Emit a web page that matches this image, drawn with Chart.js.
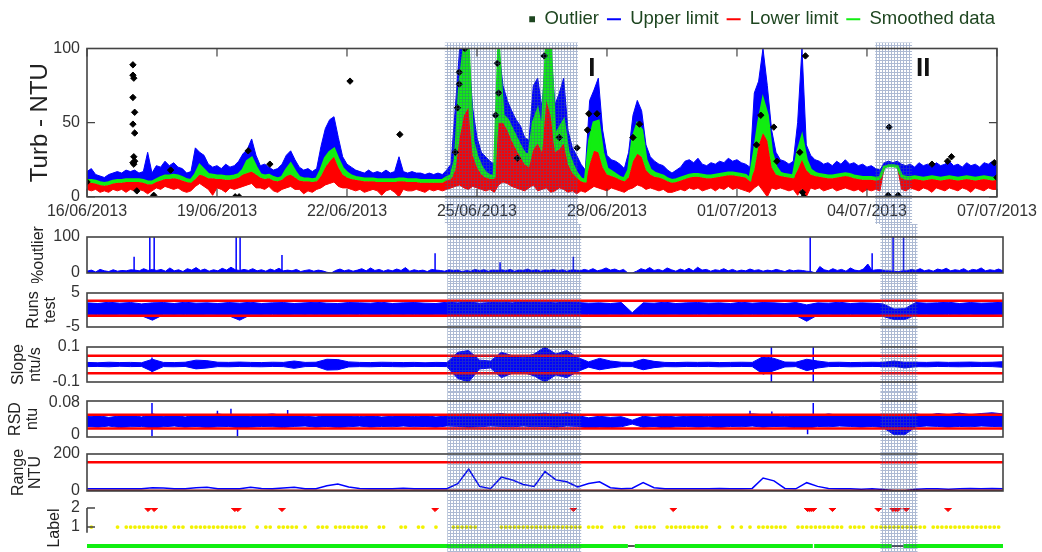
<!DOCTYPE html>
<html>
<head>
<meta charset="utf-8">
<script src="https://cdn.jsdelivr.net/npm/chart.js@4.4.0/dist/chart.umd.min.js"></script>
<style>
  html, body { margin: 0; padding: 0; background: #fff; }
  #wrap { position: relative; width: 1042px; height: 552px; overflow: hidden; }
  #wrap canvas { position: absolute; left: 0; }
</style>
</head>
<body>
<div id="wrap">
  <canvas id="turb" width="1042" height="228" style="top:0px"></canvas>
  <canvas id="pct" width="1042" height="59" style="top:224px"></canvas>
  <canvas id="runs" width="1042" height="54" style="top:283px"></canvas>
  <canvas id="slope" width="1042" height="55" style="top:337px"></canvas>
  <canvas id="rsd" width="1042" height="54" style="top:392px"></canvas>
  <canvas id="range" width="1042" height="54" style="top:446px"></canvas>
  <canvas id="label" width="1042" height="56" style="top:500px"></canvas>
</div>
<script>
const FONT = "'Liberation Sans', Arial, sans-serif";
const BLUE = '#0000ff';
const RED = '#ff0000';
const GREEN = '#11ee11';

// time axis (days since 16/06/2013)
const dayTicks = [0, 3, 6, 9, 12, 15, 18, 21];
const dayTickLabels = ['16/06/2013', '19/06/2013', '22/06/2013', '25/06/2013',
  '28/06/2013', '01/07/2013', '04/07/2013', '07/07/2013'];
const fineStep = 0.1;
const coarseStep = 0.25;

// hatched periods I and II
const shadeStart = [8.26, 18.19];
const shadeEnd = [11.33, 19.04];
const periodNames = ['I', 'II'];
const periodDays = [11.65, 19.3];
const periodLevel = 86;

// turbidity panel, one value every 0.1 day
const turbSmoothed = [
  11,11,10.5,9.5,9,9.5,10.5,11,11,11.5,
  11.5,11.5,11.5,11,10,10,11.5,13,14,14,
  14.5,14,13,11.5,11,15,21,18,15,14.5,
  14,14,13.5,13.5,14,15,18,24,26,20,
  15,14,14.5,13,12,13,18,22,17,13,
  12,12,11.5,12,18,26,30,32,25,19,
  16,14,13,12.5,12,12,12,11.5,11.5,11.5,
  11.5,11.5,12,12,11.5,11.5,11.5,11,11,11,
  11,11,11,13,14,25,75,100,100,38,
  27,20,16,14,14,100,55,52,46,40,
  34,29,28,50,58,42,100,100,40,46,
  51,30,22,16,12,11,38,50,51,30,
  19,17,15,13,12,18,40,49,45,25,
  18,16,15,14,12,11,11.5,12.5,13.5,14.5,
  15,15,14.5,14,14,14.5,15,15.5,16,16,
  15.5,15,14.5,12,30,50,65,55,30,20,
  16,15,14.5,14,30,40,25,18,16,15,
  14.5,14,14,14.5,15,15.5,15,14,13.5,13,
  13,13,12.5,13,20,21,21,20.5,14,13,
  13,13.5,13,12.5,13,13.5,13,12.5,13,13.5,
  13,12.5,13,13.5,13,12.5,13,13.5,13,12.5,
  13];
const turbUpper = [
  17,19,15,14,13,15,16,17,16,18,
  17,18,16,17,30,16,21,20,24,21,
  23,20,19,16,17,33,30,28,22,20,
  21,19,22,20,21,24,29,32,39,28,
  21,22,20,18,19,22,28,31,25,20,
  18,19,17,19,34,46,52,54,40,27,
  22,20,18,17,16,18,16,17,16,18,
  16,17,27,17,16,17,16,16,15,16,
  15,16,15,18,22,60,100,100,100,60,
  40,30,27,24,22,100,75,65,58,52,
  48,40,38,75,80,60,100,100,62,70,
  80,45,33,28,22,18,65,72,80,45,
  28,25,24,22,19,30,55,65,58,35,
  27,24,22,21,18,16,18,20,24,25,
  23,26,22,21,23,22,24,23,26,24,
  25,23,22,20,70,78,100,75,45,30,
  25,24,22,24,50,100,35,28,25,24,
  22,23,21,24,22,25,22,23,21,22,
  20,21,19,18,23,24,23,24,22,21,
  22,20,23,21,22,20,23,21,22,24,
  21,22,20,23,21,22,20,23,22,24,
  21];
const turbLower = [
  9.5,9.5,9,8,7.5,8,9,9.5,9.5,10,
  10,10,10,9.5,8.5,8.5,10,11,12,12,
  12.5,12,11,10,9.5,12,15,14,12.5,12.5,
  12,12,11.5,11.5,12,13,15,16,17,15,
  13,12,12.5,11,10.5,11.5,14,15,13,11,
  10.5,10.5,10,10.5,14,20,24,27,20,15,
  13,12,11.5,11,10.5,10.5,10.5,10,10,10,
  10,10,10.5,10.5,10,10,10,9.5,9.5,9.5,
  9.5,9.5,9.5,11,12,18,40,55,60,28,
  20,15,13,12,12,50,50,45,38,32,
  27,22,20,32,36,30,65,55,30,32,
  36,22,16,13,10.5,9.5,22,31,30,20,
  15,14,13,11.5,10.5,13,24,29,27,18,
  15,13.5,13,12,10.5,9.5,10,11,12,13,
  13.5,13.5,13,12.5,12.5,13,13.5,14,14.5,14.5,
  14,13.5,13,10.5,18,35,43,38,20,15,
  14,13.5,13,12.5,18,25,18,15,14,13.5,
  13,12.5,12.5,13,13.5,14,13.5,12.5,12,11.5,
  11.5,11.5,11,11.5,20,21,21,20.5,12.5,11.5,
  11.5,12,11.5,11,11.5,12,11.5,11,11.5,12,
  11.5,11,11.5,12,11.5,11,11.5,12,11.5,11,
  11.5];
const turbLowerBottom = [
  5,4,5,3,4,3,5,4,5,3,
  5,4,5,4,2,4,6,5,7,6,
  5,6,4,3,4,7,9,7,5,1,
  6,5,3,6,5,6,7,8,9,6,
  6,5,7,4,3,5,6,7,5,5,
  2,4,3,5,6,8,9,10,7,6,
  6,5,4,5,3,4,5,4,1,4,
  5,3,0,5,4,4,5,4,3,5,
  4,5,4,5,6,7,8,6,5,7,
  6,5,4,5,3,8,10,9,7,6,
  5,4,6,8,4,5,6,3,4,6,
  5,3,4,2,4,3,5,7,6,5,
  4,6,5,4,3,5,6,8,7,5,
  6,5,4,5,3,3,4,5,4,6,
  5,6,4,5,6,4,6,5,7,5,
  6,5,4,3,6,8,4,0,6,5,
  6,5,4,5,1,6,0,6,5,6,
  4,5,6,4,5,6,5,4,5,3,
  5,4,5,4,20,21,21,20.5,5,4,
  6,5,4,6,5,3,6,5,4,6,
  5,4,6,5,3,6,5,4,6,5,
  5];
const outlierDays = [0.0, 1.06, 1.06, 1.08, 1.06, 1.10, 1.06, 1.10, 1.08, 1.10, 1.06, 1.08, 1.15,
  1.54, 1.93, 3.42, 3.51, 3.72, 4.22, 6.07, 7.22, 8.5, 8.55, 8.59, 8.59, 8.72, 9.43, 9.47, 9.5,
  9.93, 10.55, 10.9, 11.31, 11.55, 11.58, 11.77, 12.6, 12.75, 15.45, 15.55, 15.85, 15.92, 16.45,
  16.58, 16.51, 16.54, 18.49, 18.51, 18.72, 19.5, 19.86, 19.95, 20.94, 21.0];
const outlierValues = [10, 89, 82, 80, 67, 57, 49, 43, 27, 24, 23, 22, 4,
  1, 18, 0, 0, 31, 22, 78, 42, 30, 60, 84, 76, 100, 55, 90, 70,
  26, 95, 40, 33, 45, 56, 56, 40, 49, 35, 55, 47, 24, 30,
  95, 3, 0, 1, 47, 1, 22, 24, 27, 23, 13];

// % outlier: background level every 0.1 day, plus isolated spikes
const outlierPct = [
  5,8,3,10,6,4,9,5,7,6,
  9,8,6,12,7,10,7,10,5,14,
  6,9,4,12,8,15,7,11,5,9,
  6,13,8,16,9,7,10,7,12,6,
  9,5,11,7,13,6,8,6,10,4,
  7,9,5,8,6,2,0,7,11,6,
  9,5,8,12,6,14,7,10,5,9,
  6,11,7,15,5,9,6,8,4,10,
  8,7,5,9,6,8,4,7,5,10,
  6,9,5,8,7,9,6,10,5,8,
  7,11,6,9,5,8,7,10,6,9,
  5,8,8,6,10,7,12,6,9,14,
  8,11,6,10,0,0,5,12,8,15,
  7,10,6,14,9,5,11,7,13,6,
  16,8,10,5,9,7,12,6,10,5,
  8,6,11,7,9,5,8,6,10,7,
  4,9,6,8,7,5,4,0,18,9,
  6,12,7,10,5,14,8,6,11,25,
  7,9,9,6,6,5,4,6,6,10,
  7,12,6,9,5,11,8,13,6,9,
  7,12,5,10,8,14,6,9,7,11,
  6];
const pctSpikeDays = [1.08, 1.44, 1.54, 3.42, 3.51, 4.47, 7.98, 9.47, 11.15, 16.58, 18.0, 18.48, 18.72];
const pctSpikeTop = [45, 100, 100, 100, 100, 50, 55, 30, 45, 100, 55, 100, 100];

// runs test band, one value every 0.25 day
const runsUpper = [
  2.1,1.9,2.3,2.0,2.2,1.8,2.1,2.2,1.9,2.3,
  2.0,2.1,1.9,2.2,2.0,2.3,1.9,2.1,2.2,1.9,
  2.1,2.3,2.0,1.9,2.2,2.1,2.0,2.3,1.9,2.1,
  2.2,2.0,1.9,2.3,2.1,2.4,2.0,2.2,2.3,2.1,
  2.4,2.2,2.3,2.1,2.4,2.2,2.0,2.1,1.9,2.2,
  -0.8,2.1,2.0,2.3,1.9,2.1,2.2,2.0,2.1,1.9,
  2.3,2.0,2.2,2.1,1.9,2.2,1.5,2.1,2.0,2.3,
  1.9,2.1,2.0,1.8,0.3,0.4,2.2,2.0,2.1,2.3,
  1.9,2.2,2.0,2.1,2.3];
const runsLower = [
  -1.5,-1.3,-1.6,-1.4,-1.5,-1.7,-3.0,-1.4,-1.5,-1.3,
  -1.6,-1.4,-1.5,-1.7,-3.0,-1.4,-1.5,-1.3,-1.6,-1.4,
  -1.5,-1.3,-1.6,-1.5,-1.4,-1.3,-1.5,-1.6,-1.4,-1.5,
  -1.3,-1.6,-1.4,-1.5,-1.6,-1.7,-1.5,-1.6,-1.4,-1.5,
  -1.6,-1.7,-1.5,-1.6,-1.4,-1.5,-1.3,-1.6,-1.4,-1.5,
  -1.4,-1.3,-1.6,-1.5,-1.4,-1.6,-1.3,-1.5,-1.4,-1.6,
  -1.5,-1.3,-1.6,-1.4,-1.5,-1.6,-3.3,-1.5,-1.4,-1.6,
  -1.3,-1.5,-1.6,-1.9,-2.8,-2.8,-1.5,-1.4,-1.6,-1.3,
  -1.5,-1.4,-1.6,-1.5,-1.4];
const runsLimits = [2.7, -1.7];

// slope band, one value every 0.25 day
const slopeUpper = [
  0.012,0.010,0.013,0.011,0.012,0.010,0.030,0.012,0.011,0.013,
  0.025,0.022,0.013,0.012,0.014,0.012,0.011,0.013,0.012,0.020,
  0.012,0.013,0.030,0.028,0.015,0.012,0.011,0.013,0.012,0.011,
  0.012,0.010,0.012,0.011,0.070,0.080,0.025,0.020,0.070,0.050,
  0.040,0.060,0.100,0.060,0.080,0.040,0.015,0.035,0.020,0.013,
  0.012,0.030,0.018,0.012,0.011,0.013,0.012,0.013,0.011,0.012,
  0.013,0.012,0.045,0.035,0.014,0.013,0.030,0.020,0.012,0.013,
  0.011,0.012,0.013,0.012,0.020,0.012,0.013,0.012,0.014,0.012,
  0.013,0.014,0.012,0.013,0.016];
const slopeLower = [
  -0.012,-0.011,-0.013,-0.010,-0.012,-0.011,-0.040,-0.012,-0.013,-0.011,
  -0.025,-0.020,-0.012,-0.013,-0.011,-0.012,-0.013,-0.011,-0.012,-0.022,
  -0.012,-0.011,-0.032,-0.030,-0.014,-0.012,-0.013,-0.011,-0.012,-0.013,
  -0.011,-0.012,-0.011,-0.012,-0.080,-0.100,-0.025,-0.020,-0.075,-0.050,
  -0.045,-0.065,-0.100,-0.060,-0.075,-0.040,-0.015,-0.030,-0.020,-0.012,
  -0.012,-0.030,-0.018,-0.012,-0.013,-0.011,-0.012,-0.011,-0.013,-0.012,
  -0.011,-0.012,-0.055,-0.035,-0.014,-0.012,-0.035,-0.020,-0.012,-0.011,
  -0.013,-0.012,-0.011,-0.012,-0.010,-0.020,-0.012,-0.013,-0.011,-0.012,
  -0.013,-0.012,-0.011,-0.012,-0.016];
const slopeSpikeDays = [1.49, 15.69, 16.65];
const slopeSpikeTop = [0.04, 0.1, 0.1];
const slopeSpikeBottom = [-0.05, -0.1, -0.1];
const slopeLimits = [0.05, -0.05];

// relative standard deviation band, one value every 0.25 day
const rsdUpper = [
  0.045,0.048,0.043,0.047,0.050,0.044,0.052,0.046,0.049,0.044,
  0.050,0.047,0.052,0.048,0.050,0.046,0.049,0.052,0.048,0.050,
  0.046,0.044,0.049,0.050,0.047,0.045,0.048,0.044,0.046,0.049,
  0.045,0.048,0.044,0.047,0.050,0.052,0.049,0.050,0.053,0.048,
  0.050,0.052,0.054,0.050,0.055,0.048,0.042,0.046,0.043,0.045,
  0.036,0.046,0.043,0.047,0.044,0.046,0.048,0.045,0.050,0.047,
  0.049,0.052,0.050,0.048,0.045,0.049,0.050,0.047,0.052,0.048,
  0.050,0.047,0.049,0.046,0.050,0.050,0.052,0.048,0.053,0.050,
  0.054,0.050,0.053,0.055,0.052];
const rsdLower = [
  0.020,0.018,0.021,0.017,0.019,0.020,0.016,0.019,0.021,0.018,
  0.020,0.017,0.019,0.020,0.016,0.018,0.020,0.019,0.017,0.020,
  0.021,0.018,0.020,0.017,0.019,0.021,0.018,0.020,0.019,0.021,
  0.019,0.020,0.018,0.021,0.020,0.018,0.019,0.021,0.020,0.019,
  0.021,0.019,0.020,0.018,0.021,0.020,0.016,0.018,0.017,0.019,
  0.026,0.018,0.020,0.016,0.019,0.020,0.018,0.019,0.017,0.020,
  0.019,0.021,0.018,0.020,0.019,0.017,0.015,0.020,0.019,0.021,
  0.020,0.018,0.020,0.017,-0.001,-0.001,0.019,0.021,0.020,0.018,
  0.020,0.019,0.021,0.020,0.019];
const rsdSpikeDays = [1.49, 2.99, 3.30, 3.45, 4.6, 15.2, 15.7, 16.65, 16.52, 19.0];
const rsdSpikeTop = [0.08, 0.06, 0.065, 0.03, 0.062, 0.06, 0.058, 0.08, 0.03, 0.055];
const rsdSpikeBottom = [-0.005, 0.03, 0.03, -0.005, 0.03, 0.03, 0.03, 0.03, 0.0, 0.03];
const rsdLimits = [0.05, 0.015];

// range, one value every 0.25 day
const rangeNtu = [
  12,12,12,12,12,12,18,16,12,12,
  18,20,12,12,12,20,14,12,16,20,
  12,12,28,38,22,14,12,12,12,15,
  12,12,12,12,40,118,25,12,75,60,
  35,25,105,60,50,22,40,50,18,12,
  15,45,18,12,12,12,12,12,14,12,
  12,14,70,55,14,12,45,25,14,12,
  12,10,12,8,2,2,10,12,12,10,
  12,14,12,14,12];
const rangeLimits = [155, 0];

// labels: 1 = suspect (yellow), 2 = fault (red), 0 = valid (green)
const yellowDays = [0.1, 0.7, 0.9, 1.0, 1.1, 1.2, 1.3, 1.4, 1.5, 1.6, 1.7, 1.8, 2.0, 2.1, 2.2,
  2.4, 2.5, 2.6, 2.7, 2.8, 2.9, 3.0, 3.1, 3.2, 3.3, 3.4, 3.5, 3.6, 3.9, 4.1, 4.2, 4.4, 4.5,
  4.6, 4.7, 4.8, 5.0, 5.3, 5.4, 5.5, 5.7, 5.8, 5.9, 6.0, 6.1, 6.2, 6.3, 6.4, 6.7, 6.8, 7.2,
  7.3, 7.6, 7.7, 8.0, 8.4, 8.5, 8.6, 8.7, 8.8, 8.9, 9.5, 9.6, 9.7, 9.8, 9.9, 10.0, 10.1,
  10.2, 10.3, 10.4, 10.5, 10.6, 10.7, 10.8, 10.9, 11.0, 11.1, 11.2, 11.3, 11.5, 11.6, 11.7,
  11.8, 12.1, 12.2, 12.3, 12.6, 12.7, 12.8, 12.9, 13.0, 13.3, 13.4, 13.5, 13.6, 13.7, 13.8,
  13.9, 14.0, 14.1, 14.2, 14.5, 14.8, 15.0, 15.2, 15.4, 15.5, 15.6, 15.7, 15.8, 15.9, 16.0,
  16.3, 16.4, 16.5, 16.6, 16.7, 16.8, 16.9, 17.0, 17.1, 17.2, 17.3, 17.5, 17.6, 17.7, 17.8,
  18.0, 18.1, 18.2, 18.3, 18.4, 18.5, 18.6, 18.7, 18.8, 18.9, 19.0, 19.1, 19.2, 19.4, 19.5,
  19.6, 19.7, 19.8, 19.9, 20.0, 20.1, 20.2, 20.3, 20.4, 20.5, 20.6, 20.7, 20.8, 20.9];
const redDays = [1.40, 1.54, 3.39, 3.46, 4.47, 7.98, 11.15, 13.44, 16.52, 16.56, 16.6, 16.65,
  17.09, 18.14, 18.48, 18.54, 18.59, 18.78, 19.74];
const greenRuns = [[0, 12.4], [12.56, 16.64], [16.67, 18.45], [18.72, 21]];
const grayRuns = [[12.4, 12.56], [18.45, 18.72]];

const legendNames = ['Outlier', 'Upper limit', 'Lower limit', 'Smoothed data'];
const legendColors = ['#1e4620', BLUE, RED, GREEN];

// ---- helpers ----
const fineDays = turbSmoothed.map((_, i) => Math.round(i * fineStep * 100) / 100);
const coarseDays = runsUpper.map((_, i) => i * coarseStep);
const pts = (xs, ys) => xs.map((x, i) => ({x: x, y: ys[i]}));
const hLine = v => [{x: 0, y: v}, {x: 21, y: v}];
const spikes = (days, tops, bottoms) =>
  days.flatMap((d, i) => [{x: d, y: bottoms[i]}, {x: d, y: tops[i]}, {x: d, y: null}]);
const segs = (runs, v) => runs.flatMap(r => [{x: r[0], y: v}, {x: r[1], y: v}, {x: r[1], y: null}]);

const hatchTile = (() => {
  const c = document.createElement('canvas');
  c.width = 3; c.height = 3;
  const g = c.getContext('2d');
  g.fillStyle = 'rgba(60,90,150,0.42)';
  g.fillRect(0, 0, 3, 1);
  g.fillRect(0, 1, 1, 2);
  return c;
})();

const outlierIcon = (() => {
  const c = document.createElement('canvas');
  c.width = 14; c.height = 8;
  const g = c.getContext('2d');
  g.fillStyle = legendColors[0];
  g.fillRect(8, 1, 6, 6);
  return c;
})();

const deco = {
  id: 'deco',
  afterDatasetsDraw(chart, args, o) {
    const {ctx, chartArea: a} = chart;
    const x = chart.scales.x, y = chart.scales.y;
    ctx.save();
    const top = o.shadeGap != null ? a.top - o.shadeGap : 0;
    const bottom = chart.height - (o.shadeCut || 0);
    ctx.fillStyle = ctx.createPattern(hatchTile, 'repeat');
    shadeStart.forEach((s, k) => {
      const x0 = x.getPixelForValue(s);
      ctx.fillRect(x0, top, x.getPixelForValue(shadeEnd[k]) - x0, bottom - top);
    });
    ctx.strokeStyle = '#444';
    ctx.lineWidth = 1.6;
    if (o.box) ctx.strokeRect(a.left, a.top, a.right - a.left, a.bottom - a.top);
    if (o.spine) {
      ctx.beginPath();
      ctx.moveTo(a.left, y.getPixelForValue(2));
      ctx.lineTo(a.left, y.getPixelForValue(0.7));
      y.ticks.forEach(t => {
        const py = y.getPixelForValue(t.value);
        ctx.moveTo(a.left, py); ctx.lineTo(a.left + 8, py);
      });
      ctx.stroke();
    }
    if (o.inner) {
      ctx.lineWidth = 1.2;
      ctx.beginPath();
      x.ticks.forEach(t => {
        const px = x.getPixelForValue(t.value);
        ctx.moveTo(px, a.top); ctx.lineTo(px, a.top + 8);
        ctx.moveTo(px, a.bottom); ctx.lineTo(px, a.bottom - 8);
      });
      y.ticks.forEach(t => {
        const py = y.getPixelForValue(t.value);
        ctx.moveTo(a.left, py); ctx.lineTo(a.left + 8, py);
        ctx.moveTo(a.right, py); ctx.lineTo(a.right - 8, py);
      });
      ctx.stroke();
    }
    if (o.periods) {
      ctx.fillStyle = '#111';
      ctx.font = 'bold 26px ' + FONT;
      ctx.textAlign = 'center';
      ctx.textBaseline = 'middle';
      periodNames.forEach((n, k) => {
        ctx.fillText(n, x.getPixelForValue(periodDays[k]), y.getPixelForValue(periodLevel));
      });
    }
    ctx.restore();
  }
};

function makeOptions(p) {
  return {
    responsive: false,
    animation: false,
    layout: {padding: {top: p.pt, bottom: p.pb, left: 0, right: 39}},
    plugins: {legend: {display: false}, tooltip: {enabled: false}, deco: p.deco || {box: true}},
    elements: {point: {radius: 0}, line: {tension: 0}},
    scales: {
      x: {type: 'linear', min: 0, max: 21, display: false},
      y: {
        min: p.min, max: p.max,
        afterBuildTicks: s => { s.ticks = p.ticks.map(v => ({value: v})); },
        afterFit: s => { s.width = 87; },
        grid: {display: false, drawTicks: true, tickLength: 7},
        border: {display: false},
        ticks: {color: '#333', padding: 0, font: {family: FONT, size: 16, lineHeight: 1},
          callback: v => String(v)},
        title: {display: true, text: p.title, color: '#222',
          font: {family: FONT, size: p.titleSize || 16, lineHeight: p.titleLH || 1.06},
          padding: {top: p.titlePad, bottom: 0}}
      }
    }
  };
}

function panel(id, datasets, p) {
  return new Chart(document.getElementById(id), {
    type: 'line',
    data: {datasets: datasets},
    options: makeOptions(p),
    plugins: [deco]
  });
}

// ---- top panel: turbidity ----
const turbOpts = makeOptions({pt: 2, pb: 2, min: 0, max: 100, ticks: [0, 50, 100],
  title: 'Turb - NTU', titleSize: 24, titleLH: 1.2, titlePad: 26,
  deco: {box: true, inner: true, shadeGap: 6, shadeCut: 4, periods: true}});
turbOpts.scales.x = {
  type: 'linear', min: 0, max: 21, position: 'bottom',
  afterBuildTicks: s => { s.ticks = dayTicks.map(v => ({value: v})); },
  grid: {display: false, drawTicks: false}, border: {display: false},
  ticks: {color: '#333', padding: 5, maxRotation: 0, autoSkip: false,
    font: {family: FONT, size: 16, lineHeight: 1.2}, callback: (v, i) => dayTickLabels[i]}
};
turbOpts.scales.xTop = {
  type: 'linear', min: 0, max: 21, position: 'top',
  afterFit: s => { s.height = 10; },
  grid: {display: false, drawTicks: false}, border: {display: false}, ticks: {display: false}
};
turbOpts.plugins.legend = {
  display: true, position: 'top', align: 'end',
  labels: {
    usePointStyle: true, pointStyleWidth: 14, padding: 8, color: '#1e4620',
    font: {family: FONT, size: 18.5},
    generateLabels: () => legendNames.map((t, k) => ({
      text: t, fontColor: '#1e4620', hidden: false,
      pointStyle: k === 0 ? outlierIcon : 'line',
      strokeStyle: legendColors[k], fillStyle: legendColors[k], lineWidth: 2
    }))
  }
};
new Chart(document.getElementById('turb'), {
  type: 'line',
  data: {datasets: [
    {label: 'Upper limit', data: pts(fineDays, turbUpper), borderColor: BLUE, backgroundColor: BLUE,
      borderWidth: 1, fill: 2, order: 4},
    {label: 'Lower limit', data: pts(fineDays, turbLower), borderColor: RED, backgroundColor: RED,
      borderWidth: 1, fill: 4, order: 3},
    {label: 'Smoothed data', data: pts(fineDays, turbSmoothed), borderColor: GREEN, backgroundColor: GREEN,
      borderWidth: 3, fill: 1, order: 2},
    {label: 'Outlier', data: pts(outlierDays, outlierValues), showLine: false, pointStyle: 'rectRot',
      pointRadius: 3.2, pointBackgroundColor: '#000', pointBorderColor: '#000', order: 0},
    {label: 'lower envelope', data: pts(fineDays, turbLowerBottom), borderColor: RED,
      borderWidth: 1, fill: false, order: 5}
  ]},
  options: turbOpts,
  plugins: [deco]
});

// ---- % outlier ----
panel('pct', [
  {data: pts(fineDays, outlierPct), borderColor: BLUE, backgroundColor: BLUE, borderWidth: 1, fill: 'origin'},
  {data: spikes(pctSpikeDays, pctSpikeTop, pctSpikeDays.map(() => 0)), borderColor: BLUE, borderWidth: 1.5}
], {pt: 13, pb: 10, min: 0, max: 100, ticks: [0, 100], title: '%outlier', titlePad: 30});

// ---- runs test ----
panel('runs', [
  {data: pts(coarseDays, runsUpper), borderColor: BLUE, backgroundColor: BLUE, borderWidth: 1, fill: 1, order: 2},
  {data: pts(coarseDays, runsLower), borderColor: BLUE, borderWidth: 1, order: 3},
  {data: hLine(runsLimits[0]), borderColor: RED, borderWidth: 2.5, order: 0},
  {data: hLine(runsLimits[1]), borderColor: RED, borderWidth: 2.5, order: 0}
], {pt: 10, pb: 10, min: -5, max: 5, ticks: [-5, 5], title: ['Runs', 'test'], titlePad: 25});

// ---- slope ----
panel('slope', [
  {data: pts(coarseDays, slopeUpper), borderColor: BLUE, backgroundColor: BLUE, borderWidth: 1, fill: 1, order: 2},
  {data: pts(coarseDays, slopeLower), borderColor: BLUE, borderWidth: 1, order: 3},
  {data: spikes(slopeSpikeDays, slopeSpikeTop, slopeSpikeBottom), borderColor: BLUE, borderWidth: 1.5, order: 1},
  {data: hLine(slopeLimits[0]), borderColor: RED, borderWidth: 2.5, order: 0},
  {data: hLine(slopeLimits[1]), borderColor: RED, borderWidth: 2.5, order: 0}
], {pt: 10, pb: 10, min: -0.1, max: 0.1, ticks: [-0.1, 0.1], title: ['Slope', 'ntu/s'], titlePad: 10});

// ---- RSD ----
panel('rsd', [
  {data: pts(coarseDays, rsdUpper), borderColor: BLUE, backgroundColor: BLUE, borderWidth: 1, fill: 1, order: 2},
  {data: pts(coarseDays, rsdLower), borderColor: BLUE, borderWidth: 1, order: 3},
  {data: spikes(rsdSpikeDays, rsdSpikeTop, rsdSpikeBottom), borderColor: BLUE, borderWidth: 1.5, order: 1},
  {data: hLine(rsdLimits[0]), borderColor: RED, borderWidth: 2.5, order: 0},
  {data: hLine(rsdLimits[1]), borderColor: RED, borderWidth: 2.5, order: 0}
], {pt: 9, pb: 9, min: -0.007, max: 0.085, ticks: [0, 0.08], title: ['RSD', 'ntu'], titlePad: 7});

// ---- range ----
panel('range', [
  {data: pts(coarseDays, rangeNtu), borderColor: BLUE, borderWidth: 1.5, order: 1},
  {data: hLine(rangeLimits[0]), borderColor: RED, borderWidth: 2.5, order: 0},
  {data: hLine(rangeLimits[1]), borderColor: '#8b0000', borderWidth: 3, order: 0}
], {pt: 8, pb: 9, min: 0, max: 200, ticks: [0, 200], title: ['Range', 'NTU'], titlePad: 10});

// ---- label ----
panel('label', [
  {data: yellowDays.map(d => ({x: d, y: 1})), showLine: false, pointRadius: 1.9,
    pointBackgroundColor: '#f2f200', pointBorderWidth: 0, order: 1},
  {data: redDays.map(d => ({x: d, y: 2})), showLine: false, pointStyle: 'rectRot', pointRadius: 3.6,
    pointBackgroundColor: RED, pointBorderColor: RED, order: 0},
  {data: segs(greenRuns, 0), borderColor: GREEN, borderWidth: 4, order: 2},
  {data: segs(grayRuns, 0), borderColor: '#555', borderWidth: 2, order: 2}
], {pt: 8, pb: 8, min: -0.1, max: 2, ticks: [1, 2], title: 'Label', titlePad: 46,
  deco: {box: false, spine: true}});
</script>
</body>
</html>
